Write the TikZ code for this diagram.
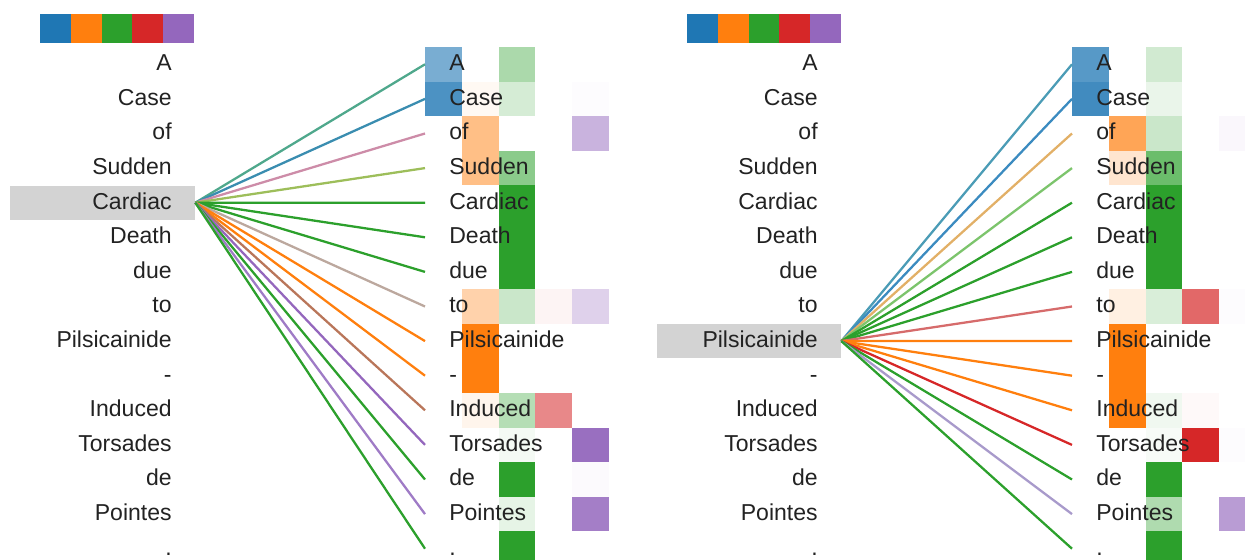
\documentclass[tikz,border=0pt]{standalone}
\usepackage{fontspec}
\setmainfont{Liberation Sans}
\definecolor{tabblue}{HTML}{1F77B4}
\definecolor{taborange}{HTML}{FF7F0E}
\definecolor{tabgreen}{HTML}{2CA02C}
\definecolor{tabred}{HTML}{D62728}
\definecolor{tabpurple}{HTML}{9467BD}
\colorlet{head1}{tabblue}
\colorlet{head2}{taborange}
\colorlet{head3}{tabgreen}
\colorlet{head4}{tabred}
\colorlet{head5}{tabpurple}
\definecolor{ink}{HTML}{222222}
\definecolor{hilite}{HTML}{D3D3D3}
% mixed line colours, left panel
\definecolor{tealmix}{HTML}{4FA88C}
\definecolor{bluemix}{HTML}{3A8DB0}
\definecolor{mauvemix}{HTML}{CD8CA8}
\definecolor{olivemix}{HTML}{9DBE5A}
\definecolor{taupemix}{HTML}{BCA89E}
\definecolor{brownmix}{HTML}{B9765A}
\definecolor{lilacmix}{HTML}{9F7BC6}
% mixed line colours, right panel
\definecolor{tealmixb}{HTML}{4B9CB6}
\definecolor{bluemixb}{HTML}{3B8BC0}
\definecolor{tanmix}{HTML}{E2B067}
\definecolor{limemix}{HTML}{7CC46C}
\definecolor{rosemix}{HTML}{D66B6B}
\definecolor{lavmix}{HTML}{A89ACB}
\tikzset{
  word/.style={font=\fontsize{13.1}{15}\selectfont,text=ink,inner sep=0pt,
               text height=7.4pt,text depth=0pt},
  srcword/.style={word,anchor=east},
  tgtword/.style={word,anchor=west,inner xsep=0.48cm},
  focusbox/.style={fill=hilite,inner sep=0pt,minimum width=#1,minimum height=0.68cm},
  attn/.style={line width=1.3pt,color=#1},
}

\begin{document}
\begin{tikzpicture}[x=0.02cm,y=-0.02cm]
  \clip (0,0) rectangle (1245,560);
  \foreach \c in {1,...,5} {
    \fill[fill=head\c] ({40+30.8*(\c-1)},14) rectangle ++(30.8,29);
    \fill[fill=head\c] ({687+30.8*(\c-1)},14) rectangle ++(30.8,29);
  }
  \foreach \r/\c/\a in {0/1/60,0/3/40,1/1/80,1/2/5,1/3/20,1/5/2,2/2/50,2/5/50,3/2/50,3/3/55,
      4/3/100,5/3/100,6/3/100,7/2/35,7/3/25,7/4/5,7/5/30,8/2/100,9/2/100,10/2/8,10/3/35,
      10/4/55,11/3/5,11/5/95,12/3/100,12/5/3,13/3/12,13/5/85,14/3/100}
    \fill[fill=head\c!\a] ({425+36.8*(\c-1)},{47+34.6*\r}) rectangle ++(36.8,34.6);
  \foreach \r/\c/\a in {0/1/75,0/3/22,1/1/85,1/3/10,2/2/70,2/3/25,2/5/5,3/2/20,3/3/70,
      4/3/100,5/3/100,6/3/100,7/2/12,7/3/18,7/4/70,7/5/2,8/2/100,9/2/100,10/2/100,10/3/7,
      10/4/3,11/3/4,11/4/100,11/5/2,12/3/100,13/3/38,13/5/65,14/3/100}
    \fill[fill=head\c!\a] ({1072+36.8*(\c-1)},{47+34.6*\r}) rectangle ++(36.8,34.6);
  \node[focusbox=3.7cm] (Lfocus) at (102.5,202.7) {};
  \node[focusbox=3.68cm] (Rfocus) at (749,341.1) {};
  \foreach \w [count=\i from 0] in {A,Case,of,Sudden,Cardiac,Death,due,to,Pilsicainide,-,
      Induced,Torsades,de,Pointes,.} {
    \node[srcword] (Ls\i) at (172,64.3+34.6*\i) {\w};
    \node[tgtword] (Lt\i) at (425,64.3+34.6*\i) {\w};
    \node[srcword] (Rs\i) at (818,64.3+34.6*\i) {\w};
    \node[tgtword] (Rt\i) at (1072,64.3+34.6*\i) {\w};
  }
  \foreach \i/\lc in {0/tealmix,1/bluemix,2/mauvemix,3/olivemix,4/tabgreen,5/tabgreen,
      6/tabgreen,7/taupemix,8/taborange,9/taborange,10/brownmix,11/tabpurple,12/tabgreen,
      13/lilacmix,14/tabgreen}
    \draw[attn=\lc] (Lfocus.east) -- (Lt\i.west);
  \foreach \i/\lc in {0/tealmixb,1/bluemixb,2/tanmix,3/limemix,4/tabgreen,5/tabgreen,
      6/tabgreen,7/rosemix,8/taborange,9/taborange,10/taborange,11/tabred,12/tabgreen,
      13/lavmix,14/tabgreen}
    \draw[attn=\lc] (Rfocus.east) -- (Rt\i.west);
\end{tikzpicture}
\end{document}
